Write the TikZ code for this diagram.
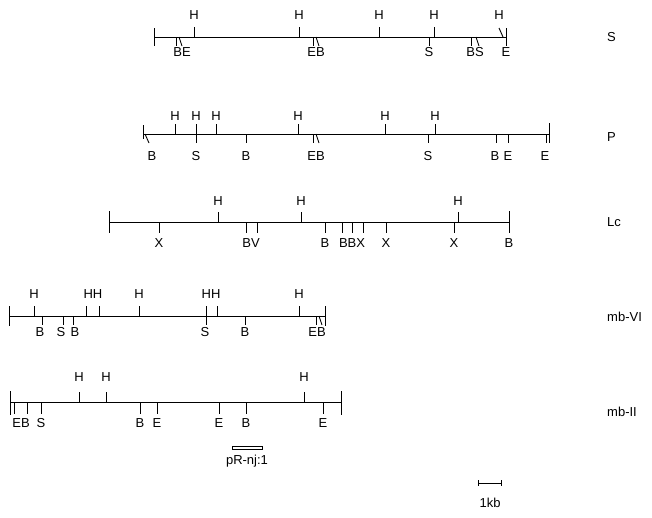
\documentclass[tikz,border=0pt]{standalone}
\usepackage{fontspec}
\setmainfont{Liberation Sans}
\begin{document}
\begin{tikzpicture}[x=1pt,y=-1pt,
  mapline/.style={line width=0.9pt},
  endtick/.style={line width=0.9pt},
  sitetick/.style={line width=0.9pt},
  lab/.style={inner sep=0pt,font=\fontsize{13}{13}\selectfont},
  strain/.style={inner sep=0pt,anchor=west,font=\fontsize{13}{13}\selectfont}]
\useasboundingbox (0,0) rectangle (652,517);

% ---------- strain S ----------
\def\ry{37}
\draw[mapline] (154,\ry) -- (506,\ry);
\draw[endtick] (154,\ry-9) -- (154,\ry+9);
\draw[endtick] (506,\ry-9) -- (506,\ry+9);
\foreach \x in {194,299,379,434} \draw[sitetick] (\x,\ry) -- (\x,\ry-10);
\draw[sitetick] (503,\ry) -- (499,\ry-9);
\foreach \x in {194,299,379,434,499} \node[lab] at (\x,\ry-22) {H};
\foreach \x in {176,313,429,471} \draw[sitetick] (\x,\ry) -- (\x,\ry+9);
\foreach \x in {179,316,476} \draw[sitetick] (\x,\ry) -- (\x+3,\ry+9);
\foreach \x/\t in {182/BE,316/EB,429/S,475/BS,506/E} \node[lab] at (\x,\ry+15) {\t};
\node[strain] (nS) at (607,37) {S};

% ---------- strain P ----------
\def\ry{134}
\draw[mapline] (143,\ry) -- (549,\ry);
\draw[endtick] (143,\ry-9) -- (143,\ry+5);
\draw[endtick] (549,\ry-11) -- (549,\ry+9);
\draw[sitetick] (145,\ry) -- (149,\ry+9);
\foreach \x in {175,196,216,298,385,435} {
  \draw[sitetick] (\x,\ry) -- (\x,\ry-10);
  \node[lab] at (\x,\ry-18) {H};}
\foreach \x in {196,246,313,428,496,508,546} \draw[sitetick] (\x,\ry) -- (\x,\ry+9);
\draw[sitetick] (316,\ry) -- (319,\ry+9);
\foreach \x/\t in {152/B,196/S,246/B,316/EB,428/S,495/B,508/E,545/E} \node[lab] at (\x,\ry+22) {\t};
\node[strain] (nP) at (607,137) {P};

% ---------- strain Lc ----------
\def\ry{222}
\draw[mapline] (109,\ry) -- (509,\ry);
\draw[endtick] (109,\ry-11) -- (109,\ry+11);
\draw[endtick] (509,\ry-11) -- (509,\ry+11);
\foreach \x in {218,301,458} {
  \draw[sitetick] (\x,\ry) -- (\x,\ry-10);
  \node[lab] at (\x,\ry-21) {H};}
\foreach \x in {159,246,257,325,342,352,363,386,454} \draw[sitetick] (\x,\ry) -- (\x,\ry+11);
\foreach \x/\t in {159/X,251/BV,325/B,352/BBX,386/X,454/X,509/B} \node[lab] at (\x,\ry+21) {\t};
\node[strain] (nLc) at (607,222) {Lc};

% ---------- strain mb-VI ----------
\def\ry{316}
\draw[mapline] (9,\ry) -- (325,\ry);
\draw[endtick] (9,\ry-10) -- (9,\ry+10);
\draw[endtick] (325,\ry-10) -- (325,\ry+10);
\foreach \x in {34,86,99,139,206,217,299} \draw[sitetick] (\x,\ry) -- (\x,\ry-10);
\foreach \x/\t in {34/H,93/HH,139/H,211/HH,299/H} \node[lab] at (\x,\ry-22) {\t};
\foreach \x in {42,63,73,206,245,316} \draw[sitetick] (\x,\ry) -- (\x,\ry+9);
\draw[sitetick] (319,\ry) -- (322,\ry+9);
\foreach \x/\t in {40/B,61/S,75/B,205/S,245/B,317/EB} \node[lab] at (\x,\ry+16) {\t};
\node[strain] (nVI) at (607,317) {mb-VI};

% ---------- strain mb-II ----------
\def\ry{402}
\draw[mapline] (10,\ry) -- (341,\ry);
\draw[endtick] (10,\ry-11) -- (10,\ry+13);
\draw[endtick] (341,\ry-11) -- (341,\ry+13);
\foreach \x in {79,106,304} {
  \draw[sitetick] (\x,\ry) -- (\x,\ry-10);
  \node[lab] at (\x,\ry-25) {H};}
\foreach \x in {14,27,41,140,157,219,246,323} \draw[sitetick] (\x,\ry) -- (\x,\ry+12);
\foreach \x/\t in {21/EB,41/S,140/B,157/E,219/E,246/B,323/E} \node[lab] at (\x,\ry+21) {\t};
\node[strain] (nII) at (607,412) {mb-II};

% probe fragment
\draw[line width=0.8pt] (232,446) rectangle (262,449.5);
\node[lab] (probe) at (247,461) {pR-nj:1};

% scale bar
\draw[line width=0.8pt] (478,483) -- (501,483);
\draw[line width=0.8pt] (478,480) -- (478,486);
\draw[line width=0.8pt] (501,480) -- (501,486);
\node[lab] (kb) at (490,503) {1kb};
\end{tikzpicture}
\end{document}
